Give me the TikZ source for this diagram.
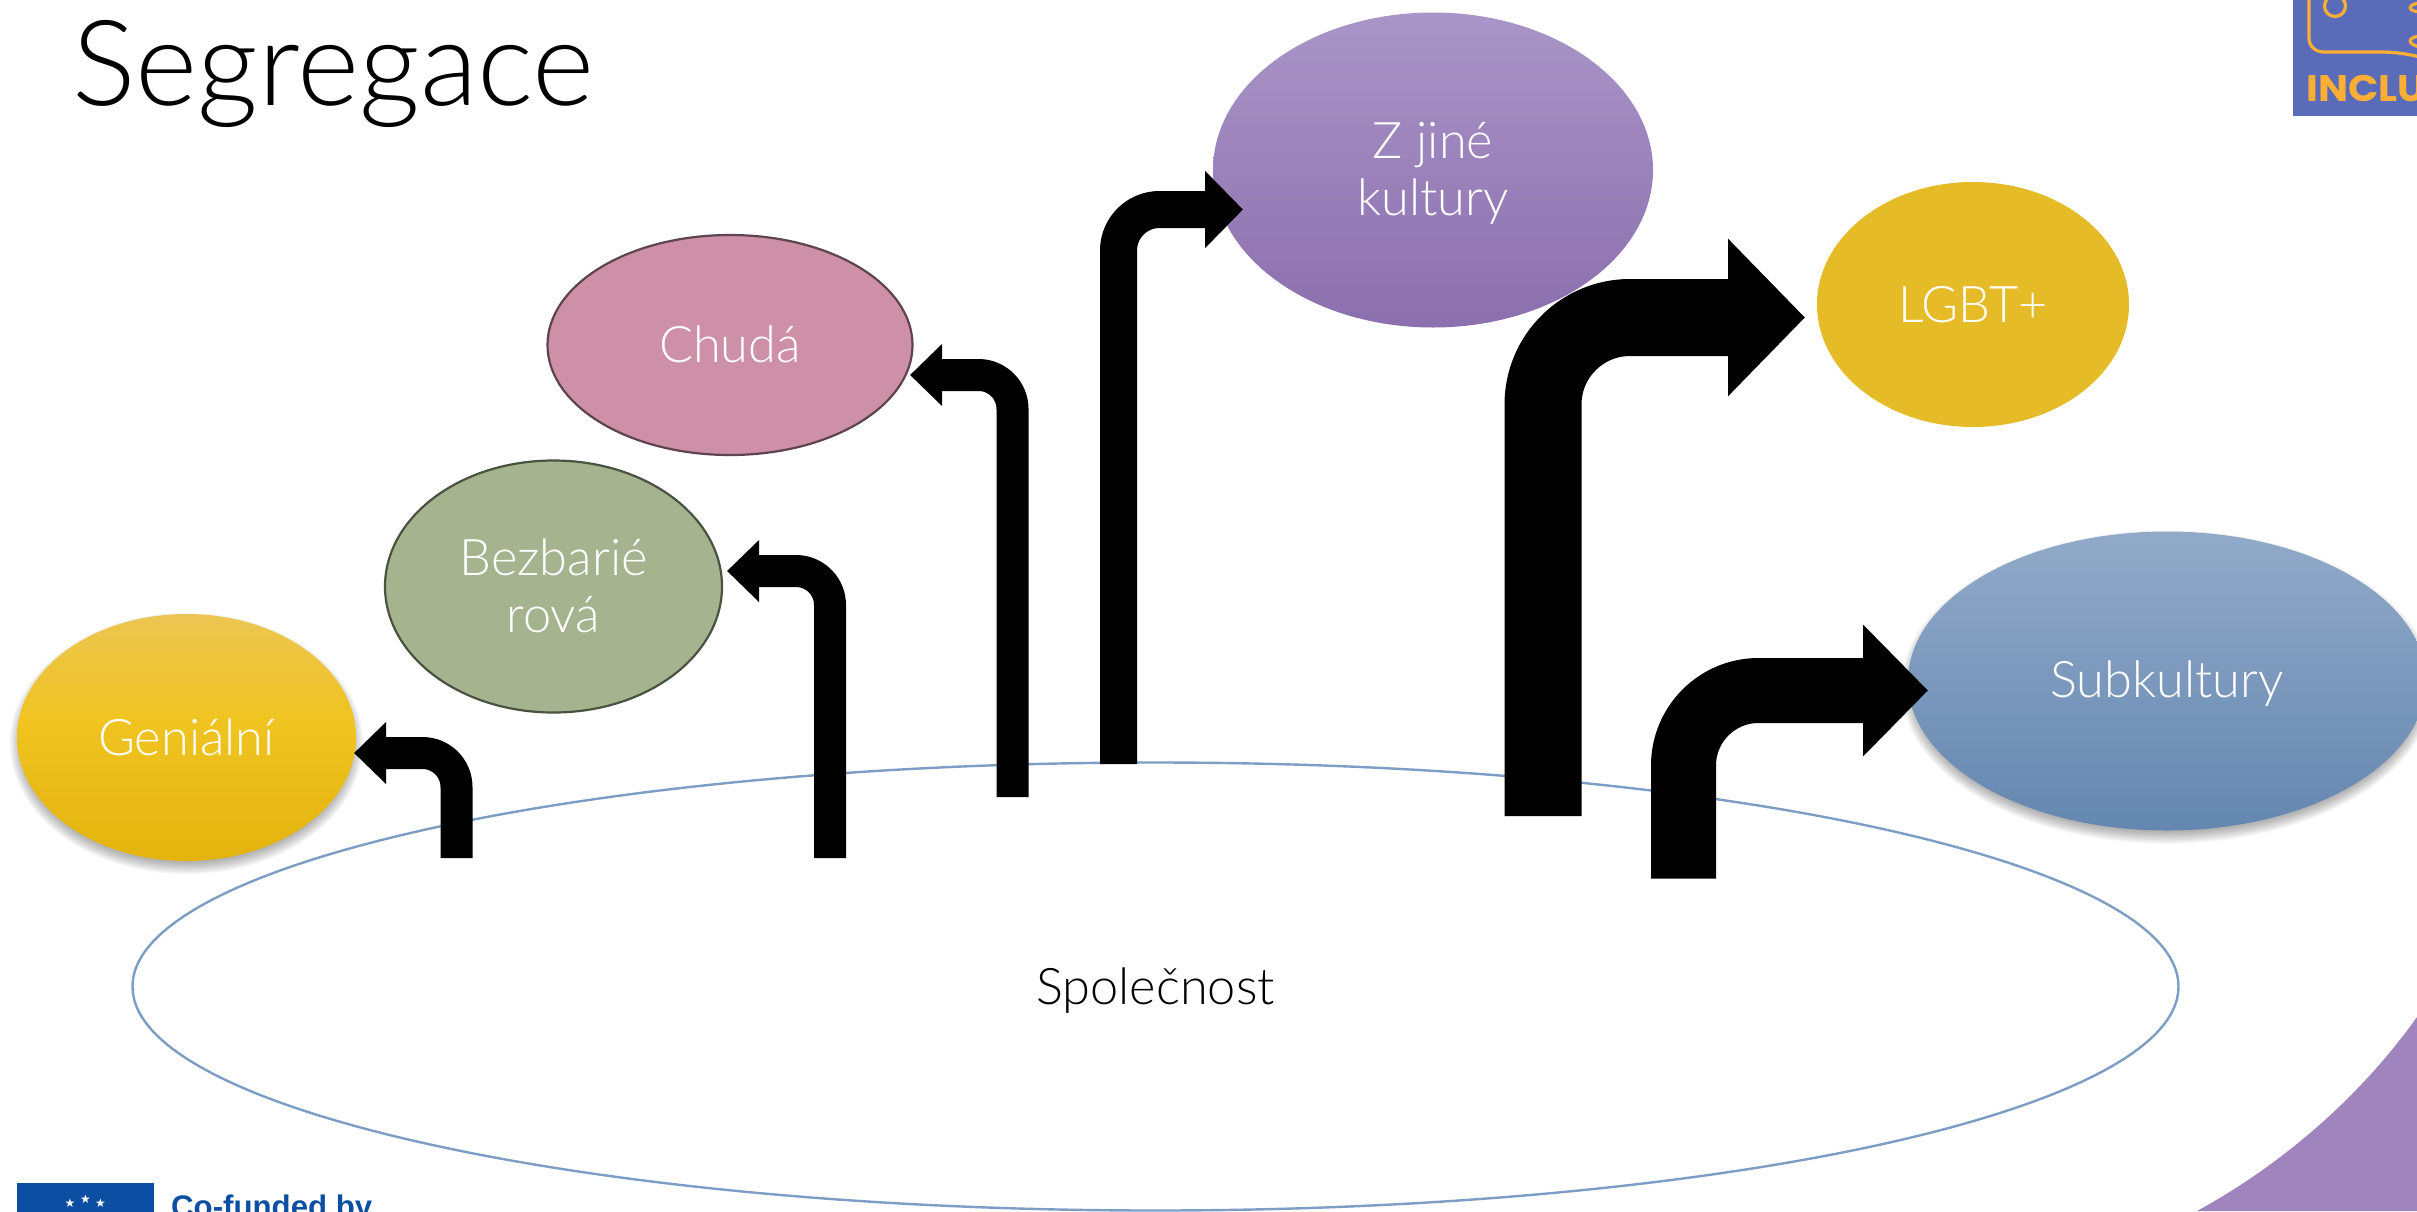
\documentclass[tikz,border=0pt]{standalone}
\usepackage{fontspec}
\setmainfont{Lato Light}
\newfontfamily\logofont{Poppins}[UprightFont=* Bold,FakeStretch=1.08]
\newfontfamily\eufont{Liberation Sans}[UprightFont=* Bold]
\newfontfamily\starfont{DejaVu Sans}
\usetikzlibrary{shapes.geometric,arrows.meta}
\definecolor{societyline}{HTML}{7C9DC4}
\definecolor{cornerpurple}{HTML}{9F84BD}
\definecolor{logoblue}{HTML}{5A6BBA}
\definecolor{logoorange}{HTML}{FDAF35}
\definecolor{eublue}{HTML}{0B4EA2}
\definecolor{gentop}{HTML}{EBC552}
\definecolor{genmid}{HTML}{F0C421}
\definecolor{genbot}{HTML}{E4B30E}
\definecolor{bezfill}{HTML}{A6B38F}
\definecolor{bezline}{HTML}{4A5240}
\definecolor{chufill}{HTML}{CE90A6}
\definecolor{chuline}{HTML}{5E4352}
\definecolor{zjitop}{HTML}{A995C7}
\definecolor{zjibot}{HTML}{8C6FAE}
\definecolor{lgbfill}{HTML}{E5BB28}
\definecolor{subtop}{HTML}{92AAC9}
\definecolor{subbot}{HTML}{6487B0}
\pgfdeclareverticalshading{genshade}{100bp}{color(0bp)=(genbot); color(25bp)=(genbot); color(54bp)=(genmid); color(75bp)=(gentop); color(100bp)=(gentop)}
\tikzset{
  blob/.style={ellipse,inner sep=0pt,outer sep=0pt,text=white,align=center,
    text height=35pt,text depth=0pt,font=\fontsize{50.5}{57}\selectfont},
  softshade/.style={fill=black,opacity=0.045,draw=none},
  bent/.style={draw=black,line cap=butt,line join=round},
  logoline/.style={draw=logoorange,line width=3.2pt,fill=none},
  eustar/.style={anchor=center,inner sep=0pt,text=white,font=\starfont\fontsize{12}{12}\selectfont},
}
\newcommand{\softshadow}[4]{%
  \foreach \g in {0,1,...,7}{
    \fill[softshade] (#1,#2+6) ellipse ({#3+7-\g*1.6} and {#4+7-\g*1.6});
  }}
\begin{document}
\begin{tikzpicture}[x=1pt,y=-1pt]
\useasboundingbox (0,0) rectangle (2417,1211);
\begin{scope}
\clip (0,0) rectangle (2417,1211);
% decorations
\fill[cornerpurple] (2197,1211) .. controls (2290,1160) and (2365,1090) .. (2417,1017) -- (2417,1211) -- cycle;
\fill[logoblue] (2293,0) rectangle (2417,116);
\draw[logoline] (2309,-5) -- (2309,38) .. controls (2309,47) and (2316,52) .. (2324,52) -- (2380,52) .. controls (2395,52) and (2408,54) .. (2420,57);
\draw[logoline] (2335,6) circle (10.5);
\draw[logoline] (2420,3) .. controls (2408,4) and (2406,11) .. (2420,12);
\draw[logoline] (2420,36) .. controls (2408,37) and (2406,44) .. (2420,47);
\node[anchor=base west,inner sep=0pt,text=logoorange,font=\logofont\fontsize{37}{37}\selectfont] (logotext) at (2306,101) {INCLU};
\fill[eublue] (17,1183) rectangle (154,1215);
\node[eustar] (stara) at (70,1203) {★};
\node[eustar] (starb) at (85.5,1199.5) {★};
\node[eustar] (starc) at (100.5,1203) {★};
\node[anchor=base west,inner sep=0pt,text=eublue,font=\eufont\fontsize{31.2}{31.2}\selectfont] (cofund) at (171,1217) {Co-funded by};
% title
\node[anchor=base west,inner sep=0pt,font=\fontsize{119}{119}\selectfont] (title) at (72,105) {Segregace};
% society
\node[ellipse,draw=societyline,line width=2.4pt,minimum width=2046pt,minimum height=448pt,inner sep=0pt,text height=35pt,text depth=0pt,font=\fontsize{50.5}{57}\selectfont] (society) at (1155.5,986.5) {Společnost};
% groups
\softshadow{186.5}{737.5}{169.5}{123.5}
\node[blob,shade,shading=genshade,minimum width=339pt,minimum height=247pt] (genial) at (186.5,737.5) {Geniální};
\node[blob,fill=bezfill,draw=bezline,line width=2.2pt,text height=91.6pt,minimum width=337pt,minimum height=252pt] (bezbar) at (553.5,586.5) {Bezbarié\\rová};
\node[blob,fill=chufill,draw=chuline,line width=2.2pt,minimum width=365pt,minimum height=220pt] (chuda) at (730,345) {Chudá};
\node[blob,shade,top color=zjitop,bottom color=zjibot,text height=90pt,minimum width=440pt,minimum height=315pt] (zjine) at (1433,170) {Z jiné\\kultury};
\node[blob,fill=lgbfill,minimum width=312pt,minimum height=245pt] (lgbt) at (1973,304.5) {LGBT+};
\softshadow{2167}{681}{259}{149.5}
\node[blob,shade,top color=subtop,bottom color=subbot,text height=32pt,minimum width=518pt,minimum height=299pt] (subk) at (2167,681) {Subkultury};
% connectors
\coordinate (s1) at (456.5,858); \coordinate (t1) at (354,753);
\coordinate (s2) at (830,858);   \coordinate (t2) at (727,571);
\coordinate (s3) at (1012.5,797);\coordinate (t3) at (910,375);
\coordinate (s4) at (1118.5,764);\coordinate (t4) at (1243,209.5);
\coordinate (s5) at (1543,816);  \coordinate (t5) at (1805,317.5);
\coordinate (s6) at (1683.5,878.5);\coordinate (t6) at (1928,690.5);
\draw[bent,line width=32pt,rounded corners=34pt,-{Triangle[length=32pt,width=60pt]}] (s1) |- (t1);
\draw[bent,line width=32pt,rounded corners=34pt,-{Triangle[length=32pt,width=60pt]}] (s2) |- (t2);
\draw[bent,line width=32pt,rounded corners=34pt,-{Triangle[length=32pt,width=60pt]}] (s3) |- (t3);
\draw[bent,line width=37pt,rounded corners=41pt,-{Triangle[length=38pt,width=75pt]}] (s4) |- (t4);
\draw[bent,line width=77pt,rounded corners=87pt,-{Triangle[length=77pt,width=153pt]}] (s5) |- (t5);
\draw[bent,line width=65pt,rounded corners=75pt,-{Triangle[length=65pt,width=128pt]}] (s6) |- (t6);
\end{scope}
\end{tikzpicture}
\end{document}
